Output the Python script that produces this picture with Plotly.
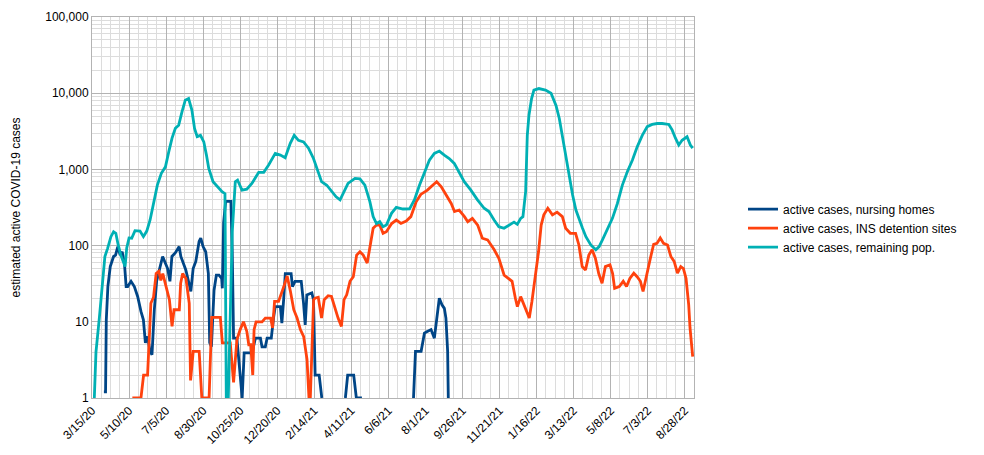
import pandas as pd
import plotly.graph_objects as go

start = pd.Timestamp("2020-03-15")
end_day = 910

# days since 3/15/20 and values (None = no data / zero)
nh_days = [18, 20.5, 21.6, 24, 27.6, 30.6, 32.6, 35.6, 39, 42.6, 45.6, 49, 51.6, 54, 59, 64, 69, 74, 77.7,
           80.7, 84, 87.7, 90.7, 94.2, 97.7, 101.8, 106.8, 110.8, 114.3, 117.8, 120.8, 125.8, 131.8, 134.3,
           137.8, 141.8, 145.9, 149.4, 152.9, 156.9, 161.9, 164.4, 167.9, 171.9, 175.9, 177.9, 180.5, 184.5,
           188, 192, 196, 197, 199, 202, 210, 212, 214, 219, 221, 224, 227, 230, 242, 247, 254.6, 257, 262,
           264.7, 271, 274.7, 277, 284.7, 287, 289.7, 292.2, 301, 303, 307, 316.3, 319.8, 322.3, 324.8, 332.3,
           334.8, 337.3, 343.4, 347.4, 350,
           383, 386.5, 395.6, 399.6, 408, 410,
           486, 489, 497.5, 502.5, 507.5, 512.5, 517.5, 521, 525, 529, 532.6, 535, 537.6, 538.6]
nh_vals = [1.2, 1.2, 10.6, 29, 53, 62, 72, 75, 97, 75, 83, 59, 29, 29, 34, 29, 21.5, 13.7, 10.6,
           5.3, 6.4, 4.1, 3.7, 14.4, 34, 48, 72, 59, 50, 34, 72, 80, 97, 72,
           59, 48, 34, 25, 50, 62, 113, 125, 97, 83, 43, 5.3, 4.7, 26,
           41, 41, 37, 27.5, 200, 380, 380, 83, 6.1, 6.1, 3.9, 1.7, 1, 3.9, 3.9, 6.1, 6.1, 4.7, 4.7,
           6.1, 6.1, 11.7, 15.8, 15.8, 9.6, 19.5, 43, 43, 29, 34, 34, 17.5, 9.1, 22.5, 24,
           19.5, 2, 2, 1, None,
           1, 2, 2, 1, 1, None,
           1, 4.1, 4.1, 7.1, 7.5, 7.9, 6.1, 11.2, 20.4, 16.7, 15, 11.2, 4.1, 1]

ins_days = [61, 74, 78, 84, 89, 93, 97, 101, 104, 107, 112, 117, 121, 124, 132, 134, 137, 142, 147, 149,
            153, 162, 166, 177, 181, 194, 197, 209, 214, 219, 224, 229, 234, 237, 240, 243, 245, 248, 257,
            262, 270, 273, 276, 282, 290, 295, 300, 305, 310, 315, 320, 325, 328, 330, 335, 337, 342, 347,
            351, 357, 362, 367, 372, 377, 381, 385, 390, 395, 400, 405, 410, 416, 420, 425, 430, 435, 440,
            445, 453, 460, 467, 475, 482, 490, 497, 507, 515, 521, 528, 535, 543, 548, 555, 563, 568, 575,
            583, 590, 598, 608, 615, 623, 630, 635, 640, 643, 648, 653, 658, 661, 665, 670, 675, 679, 683,
            689, 696, 703, 711, 716, 723, 731, 736, 741, 746, 751, 756, 761, 766, 771, 776, 783, 787, 790,
            797, 803, 808, 813, 819, 824, 829, 833, 838, 844, 849, 854, 859, 864, 870, 875, 880, 885, 890,
            894, 898, 902, 904, 908]
ins_vals = [1, 1, 2, 2, 17.5, 21, 43, 46, 35, 43, 29, 19.5, 8.7, 14.4, 14.4, 32, 43, 37, 17.5, 1.7,
            4.1, 4.1, 1, 1, 11.4, 11.4, 5.3, 5.3, 1.6, 5.8, 7.9, 10, 7.5, 5, 5, 2, 7.9, 10, 10,
            11.2, 11.2, 8.3, 18.5, 18.5, 29, 40, 25, 14.4, 11.2, 7.9, 6.4, 3.2, 1, 1, 19.5, 20.4, 21, 11.2,
            19.5, 22, 21.5, 15, 11.2, 8.7, 19.5, 22.6, 34, 39, 75, 83, 75, 59, 92, 169, 186, 186, 145,
            152, 195, 216, 195, 210, 240, 377, 470, 535, 620, 690, 590, 460, 357, 280, 293, 240, 206, 228,
            186, 125, 119, 88, 68, 41, 37, 34, 20.4, 15.8, 21.4, 16.7, 13.7, 11.2, 18.5, 37, 83, 186, 253,
            309, 253, 275, 240, 169, 145, 145, 102, 53, 48, 75, 88, 68, 43, 32, 53, 56, 43, 27.5,
            29, 34, 29, 37, 43.5, 39, 34, 25, 41, 68, 104, 107, 126, 107, 102, 72, 62, 43.5, 53,
            50, 37, 16.7, 8.3, 3.5]

rem_days = [3.5, 6, 11, 16, 19.5, 23.6, 28.6, 32.6, 36, 39.6, 43.6, 50, 52.5, 56, 60, 65, 72.6, 77.7,
            82.8, 87.8, 93.8, 98.8, 104.8, 111, 116, 121, 126, 131, 136, 141, 146, 151, 155, 159, 164, 169,
            173, 176.5, 183, 190, 196.6, 201, 203, 206, 212, 216.6, 220, 226.7, 234, 241.7, 252, 259.6, 267,
            277, 284.7, 292, 299.7, 305.7, 312, 319.8, 327.3, 334.8, 342, 347, 354.9, 362, 369, 375, 380,
            387, 397.5, 405, 412.5, 420, 425, 430, 435, 440, 445, 452.7, 460, 470, 480, 487.5, 495, 502.5,
            510, 517.5, 525, 532.6, 540, 547.6, 555, 562.7, 572.7, 582.7, 592.8, 600, 607.8, 615, 622.8,
            630, 637.9, 642.9, 648, 651.4, 655.5, 658, 660.5, 664.5, 668, 675.5, 685.5, 693.9, 701.4, 706.4,
            711.5, 716.5, 721.5, 726.5, 731.5, 736.5, 741.5, 746.6, 754, 761.6, 766.6, 771.6, 779, 786.7,
            794.2, 801.7, 809.2, 816.8, 824.3, 831.8, 839.3, 846.8, 854.4, 861.9, 872, 876.9, 882, 887, 892,
            899.5, 904.5, 908]
rem_vals = [1, 4, 11, 30, 72, 92, 131, 152, 145, 102, 75, 53, 93, 126, 125, 157, 155, 131,
            155, 217, 378, 622, 888, 1080, 1700, 2570, 3460, 3800, 5700, 8100, 8500, 6000, 3450, 2690, 2800, 2300,
            1540, 1030, 690, 590, 510, 480, 1, 1, 150, 690, 725, 535, 550, 655, 915, 915, 1140,
            1620, 1540, 1420, 2200, 2800, 2410, 2300, 1900, 1390, 890, 690, 620, 510, 437, 398, 500,
            655, 760, 750, 620, 377, 240, 195, 206, 177, 186, 265, 318, 302, 303, 400, 620, 930,
            1320, 1620, 1740, 1540, 1390, 1200, 930, 690, 535, 398, 309, 280, 217, 177, 169,
            186, 203, 190, 228, 240, 510, 2800, 5130, 8500, 10970, 11500, 10970, 10000, 6900, 4660,
            2570, 1390, 760, 460, 293, 217, 169, 131, 102, 88, 97, 119, 160, 228,
            357, 622, 930, 1320, 1990, 2800, 3640, 3890, 4000, 4000, 3890, 3300, 2570, 2090, 2410,
            2680, 2090, 1900]

series_names = ["active cases, nursing homes", "active cases, INS detention sites", "active cases, remaining pop."]
series_colors = ["#004586", "#ff420e", "#00b0b4"]

tick_labels = ["3/15/20", "5/10/20", "7/5/20", "8/30/20", "10/25/20", "12/20/20", "2/14/21", "4/11/21",
               "6/6/21", "8/1/21", "9/26/21", "11/21/21", "1/16/22", "3/13/22", "5/8/22", "7/3/22", "8/28/22"]
y_tick_vals = [1, 10, 100, 1000, 10000, 100000]
y_tick_text = ["1", "10", "100", "1,000", "10,000", "100,000"]


def to_dates(days):
    return [start + pd.Timedelta(days=d) for d in days]


fig = go.Figure()
for name, color, d, v in zip(series_names, series_colors,
                             [nh_days, ins_days, rem_days], [nh_vals, ins_vals, rem_vals]):
    fig.add_trace(go.Scatter(x=to_dates(d), y=v, mode="lines", name=name,
                             line=dict(color=color, width=2.8), connectgaps=False))

tick_dates = [pd.Timestamp(pd.to_datetime(t, format="%m/%d/%y")) for t in tick_labels]
DAY_MS = 86400000

# page has an 8px body margin, so the figure is sized/offset to compensate
fig.update_layout(
    width=976, height=447,
    margin=dict(l=84, r=290, t=9, b=57, autoexpand=False),
    paper_bgcolor="white", plot_bgcolor="white",
    font=dict(family="Liberation Sans", size=12, color="black"),
    showlegend=True,
    legend=dict(x=1.0814, xanchor="left", y=0.446, yanchor="middle",
                font=dict(size=12, color="black"), bgcolor="rgba(0,0,0,0)",
                itemwidth=30, tracegroupgap=0),
)
fig.update_xaxes(
    type="date", automargin=False,
    range=[start, start + pd.Timedelta(days=end_day)],
    tickmode="array", tickvals=tick_dates, ticktext=tick_labels,
    tickangle=-45, ticks="", tickfont=dict(size=12, color="black"),
    showgrid=True, gridcolor="#b3b3b3", gridwidth=1,
    minor=dict(tickmode="linear", tick0=start, dtick=14 * DAY_MS, showgrid=True,
               gridcolor="#dcdcdc", gridwidth=1, ticks=""),
    showline=True, linecolor="#b3b3b3", mirror=True, zeroline=False,
)
fig.update_yaxes(
    type="log", range=[0, 5], automargin=False,
    tickmode="array", tickvals=y_tick_vals, ticktext=y_tick_text, ticks="",
    tickfont=dict(size=12, color="black"),
    showgrid=True, gridcolor="#b3b3b3", gridwidth=1,
    minor=dict(tickmode="linear", dtick="D1", showgrid=True, gridcolor="#dcdcdc", gridwidth=1, ticks=""),
    showline=True, linecolor="#b3b3b3", mirror=True, zeroline=False,
    title=dict(text="estimated active COVID-19 cases", font=dict(size=12, color="black"), standoff=22),
)

fig.write_html("out.html")
